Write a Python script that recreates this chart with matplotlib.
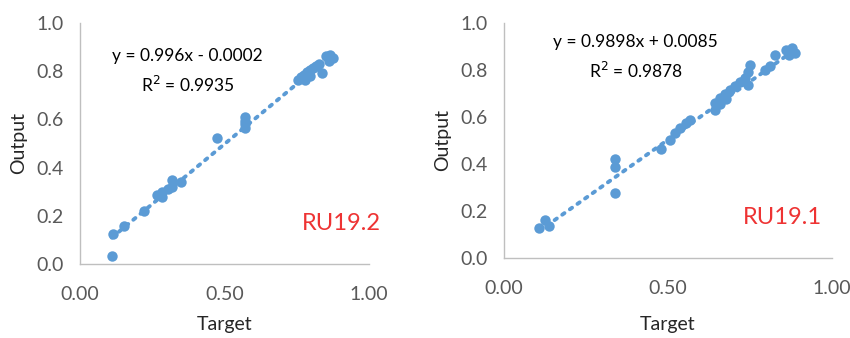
import matplotlib.pyplot as plt
import numpy as np

plt.rcParams['font.family'] = ['Lato', 'DejaVu Sans']

# RU19.2 (left panel)
target_192 = [0.110, 0.113, 0.152, 0.221, 0.268, 0.284, 0.284, 0.305, 0.318, 0.318,
              0.350, 0.473, 0.571, 0.571, 0.571, 0.571,
              0.754, 0.765, 0.775, 0.785, 0.796, 0.806, 0.817, 0.827, 0.837, 0.851,
              0.865, 0.875, 0.862, 0.779, 0.796]
output_192 = [0.034, 0.123, 0.159, 0.221, 0.286, 0.300, 0.280, 0.310, 0.349, 0.320,
              0.339, 0.521, 0.565, 0.580, 0.595, 0.610,
              0.763, 0.776, 0.784, 0.797, 0.805, 0.813, 0.822, 0.830, 0.793, 0.863,
              0.867, 0.855, 0.842, 0.763, 0.780]
coef_192 = (0.996, -0.0002)
eq_192 = "y = 0.996x - 0.0002"
r2_192 = "R$^2$ = 0.9935"

# RU19.1 (right panel)
target_191 = [0.108, 0.125, 0.137, 0.338, 0.338, 0.338, 0.479,
              0.506, 0.521, 0.537, 0.555, 0.567,
              0.643, 0.659, 0.677,
              0.643, 0.659, 0.674, 0.689, 0.704, 0.720, 0.735, 0.744, 0.750, 0.744,
              0.796, 0.811, 0.826, 0.860, 0.878, 0.887, 0.869]
output_191 = [0.126, 0.162, 0.136, 0.420, 0.389, 0.278, 0.464,
              0.502, 0.532, 0.553, 0.574, 0.587,
              0.630, 0.655, 0.677,
              0.660, 0.681, 0.698, 0.715, 0.732, 0.749, 0.766, 0.791, 0.821, 0.736,
              0.800, 0.817, 0.864, 0.885, 0.894, 0.872, 0.864]
coef_191 = (0.9898, 0.0085)
eq_191 = "y = 0.9898x + 0.0085"
r2_191 = "R$^2$ = 0.9878"

x_ticks = [0.0, 0.5, 1.0]
x_ticklabels = ["0.00", "0.50", "1.00"]
y_ticks = [0.0, 0.2, 0.4, 0.6, 0.8, 1.0]
y_ticklabels = ["0.0", "0.2", "0.4", "0.6", "0.8", "1.0"]

blue = "#5B9BD5"
gray = "#595959"


def draw_panel(ax, tx, ty, coef, eq, r2, name, eq_pos, name_pos, xlab_pos, ylab_pos):
    tx = np.array(tx)
    ty = np.array(ty)
    xs = np.array([tx.min(), tx.max()])
    # trendline from the equation shown on the chart
    ax.plot(xs, coef[0] * xs + coef[1], linestyle=(0, (0.7, 1.7)), color=blue,
            linewidth=2.8, dash_capstyle='round', zorder=2)
    ax.plot(tx, ty, 'o', color=blue, markersize=7.5, markeredgewidth=0, zorder=3)

    ax.set_xlim(0, 1)
    ax.set_ylim(0, 1)
    ax.set_xticks(x_ticks)
    ax.set_xticklabels(x_ticklabels)
    ax.set_yticks(y_ticks)
    ax.set_yticklabels(y_ticklabels)
    ax.tick_params(axis='x', length=0, pad=16, labelsize=14, labelcolor=gray)
    ax.tick_params(axis='y', length=0, pad=12, labelsize=14, labelcolor=gray)
    for s in ['top', 'right']:
        ax.spines[s].set_visible(False)
    for s in ['left', 'bottom']:
        ax.spines[s].set_color('#BFBFBF')
        ax.spines[s].set_linewidth(1.0)
    ax.set_xlabel("Target", fontsize=14, color='#262626')
    ax.set_ylabel("Output", fontsize=14, color='#262626')
    ax.xaxis.set_label_coords(*xlab_pos)
    ax.yaxis.set_label_coords(*ylab_pos)
    ax.xaxis.label.set_va('center')
    ax.yaxis.label.set_va('center')

    ax.text(eq_pos[0], eq_pos[1], eq, transform=ax.transAxes, ha='center', va='center', fontsize=12.5)
    ax.text(eq_pos[0], eq_pos[1] - 0.12, r2, transform=ax.transAxes, ha='center', va='center', fontsize=12.5)
    ax.text(name_pos[0], name_pos[1], name, transform=ax.transAxes, ha='center', va='center',
            fontsize=17, color='#EE3333')


fig = plt.figure(figsize=(8.5, 3.38), dpi=100)
ax1 = fig.add_axes([0.0941, 0.2189, 0.34, 0.713])
ax2 = fig.add_axes([0.5929, 0.2367, 0.3859, 0.695])

draw_panel(ax1, target_192, output_192, coef_192, eq_192, r2_192, "RU19.2",
           (0.372, 0.865), (0.905, 0.17), (0.5, -0.253), (-0.211, 0.502))
draw_panel(ax2, target_191, output_191, coef_191, eq_191, r2_191, "RU19.1",
           (0.402, 0.918), (0.849, 0.174), (0.5, -0.285), (-0.186, 0.502))

fig.savefig("out.png", dpi=100)
